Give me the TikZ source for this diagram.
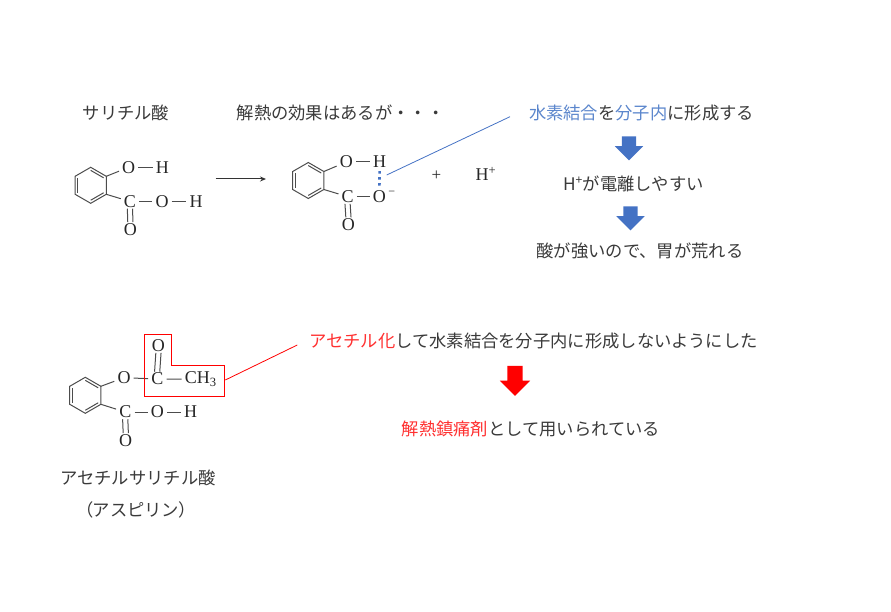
\documentclass[tikz,border=0pt]{standalone}
\usepackage{fontspec}
\setmainfont{Liberation Serif}
\newfontfamily\jpfont{Noto Sans CJK JP}
\usetikzlibrary{calc,shapes.arrows,arrows.meta}
\definecolor{keyblue}{HTML}{4472C4}
\definecolor{wordblue}{HTML}{5B86CC}
\definecolor{keyred}{HTML}{FF0000}
\definecolor{wordred}{HTML}{FF3030}
\definecolor{inkgray}{HTML}{3A3A3A}
\tikzset{
  atom/.style={inner sep=3pt,font=\fontsize{18}{19}\selectfont,text=black!85},
  caption/.style={inner sep=0pt,font=\jpfont\fontsize{17.3}{20}\selectfont,text=inkgray},
  bond/.style={draw=black!70,line width=1pt},
  twin/.style={shorten <=-2pt,shorten >=-2pt},
  downblue/.style={single arrow,fill=keyblue,draw=none,rotate=-90,inner xsep=0pt,inner ysep=7pt,
    minimum width=28pt,minimum height=24pt,single arrow head extend=7pt,single arrow head indent=0pt},
  downred/.style={single arrow,fill=keyred,draw=none,rotate=-90,inner xsep=0pt,inner ysep=7.5pt,
    minimum width=30pt,minimum height=30pt,single arrow head extend=7.5pt,single arrow head indent=0pt},
}
\newcommand{\blueword}[1]{\textcolor{wordblue}{#1}}
\newcommand{\redword}[1]{\textcolor{wordred}{#1}}
\begin{document}
\begin{tikzpicture}[x=1pt,y=-1pt]
  \useasboundingbox (0,0) rectangle (891,612);
  % captions
  \node[caption] (nameA) at (126,113) {サリチル酸};
  \node[caption] (remark) at (340.5,113) {解熱の効果はあるが・・・};
  \node[caption] (stepA) at (641.5,113) {\blueword{水素結合}を\blueword{分子内}に形成する};
  \node[caption] (stepB) at (633.5,184) {H\textsuperscript{+}が電離しやすい};
  \node[caption] (stepC) at (640,251) {酸が強いので、胃が荒れる};
  \node[caption] (nameB) at (138,478) {アセチルサリチル酸};
  \node[caption] (nameC) at (136,510) {（\kern-1pt アスピリン\kern-1pt ）};
  \node[caption] (stepD) at (533.5,341) {\redword{アセチル化}して水素結合を分子内に形成しないようにした};
  \node[caption] (stepE) at (531,429) {\redword{解熱鎮痛剤}として用いられている};
  \node[downblue] (downA) at (629,144.7) {};
  \node[downblue] (downB) at (630.5,214.7) {};
  \node[downred] (downC) at (515,377) {};
  % salicylic acid
  \begin{scope}[shift={(90.7,185.3)}]
    \draw
      (0,0) coordinate (a0)
      (90:18) coordinate (a1)
      (30:18) coordinate (a2)
      (-30:18) coordinate (a3)
      (-90:18) coordinate (a4)
      (-150:18) coordinate (a5)
      (150:18) coordinate (a6);
  \end{scope}
  \draw
    (128.7,167.3) node[atom] (aO){O}
    (162.3,167.3) node[atom] (aH){H}
    (130,201.5) node[atom] (aC){C}
    (162,201.5) node[atom] (bO){O}
    (196,201.5) node[atom] (bH){H}
    (130.3,229.3) node[atom] (cO){O};
  \begin{scope}[bond]
    \draw (a1) -- (a2) -- (a3) -- (a4) -- (a5) -- (a6) -- cycle;
    \draw ($(a5)!.17!(a0)$) to ($(a6)!.17!(a0)$);
    \draw ($(a3)!.17!(a0)$) to ($(a4)!.17!(a0)$);
    \draw ($(a1)!.17!(a0)$) to ($(a2)!.17!(a0)$);
    \draw (a3) to (aO);
    \draw (aO) to (aH);
    \draw (a2) to (aC);
    \draw (aC) to (bO);
    \draw (bO) to (bH);
    \draw[twin] ([xshift=-2.6pt]aC.south) to ([xshift=-2.6pt]cO.north);
    \draw[twin] ([xshift=2.6pt]aC.south) to ([xshift=2.6pt]cO.north);
  \end{scope}
  % reaction arrow
  \coordinate (arrowL) at (215.7,179);
  \coordinate (arrowR) at (266,179);
  \draw[-{Stealth[length=6pt,width=5pt]},line width=1pt,black!80] (arrowL) to (arrowR);
  % salicylate ion
  \begin{scope}[shift={(308.3,180.5)}]
    \draw
      (0,0) coordinate (d0)
      (90:18) coordinate (d1)
      (30:18) coordinate (d2)
      (-30:18) coordinate (d3)
      (-90:18) coordinate (d4)
      (-150:18) coordinate (d5)
      (150:18) coordinate (d6);
  \end{scope}
  \draw
    (346.3,162) node[atom] (dO){O}
    (379.7,162) node[atom] (dH){H}
    (347.7,196.7) node[atom] (dC){C}
    (379.3,196.7) node[atom] (eO){O}
    (391.7,193) node[atom,font=\fontsize{12}{13}\selectfont] (eM){−}
    (348.3,224.7) node[atom] (fO){O}
    (436.3,175.3) node[atom,font=\fontsize{17}{18}\selectfont] (plus){+}
    (486,174) node[atom] (ion){H\textsuperscript{+}};
  \begin{scope}[bond]
    \draw (d1) -- (d2) -- (d3) -- (d4) -- (d5) -- (d6) -- cycle;
    \draw ($(d5)!.17!(d0)$) to ($(d6)!.17!(d0)$);
    \draw ($(d3)!.17!(d0)$) to ($(d4)!.17!(d0)$);
    \draw ($(d1)!.17!(d0)$) to ($(d2)!.17!(d0)$);
    \draw (d3) to (dO);
    \draw (dO) to (dH);
    \draw (d2) to (dC);
    \draw (dC) to (eO);
    \draw[twin] ([xshift=-2.6pt]dC.south) to ([xshift=-2.6pt]fO.north);
    \draw[twin] ([xshift=2.6pt]dC.south) to ([xshift=2.6pt]fO.north);
  \end{scope}
  \draw[keyblue,line width=2.6pt,dash pattern=on 2.6pt off 3.4pt] (dH) to (eO);
  \coordinate (noteA) at (510,116.7);
  \coordinate (hookA) at (386.7,175);
  \draw[keyblue,line width=0.8pt] (hookA) to (noteA);
  % aspirin
  \begin{scope}[shift={(85.3,395.3)}]
    \draw
      (0,0) coordinate (g0)
      (90:18) coordinate (g1)
      (30:18) coordinate (g2)
      (-30:18) coordinate (g3)
      (-90:18) coordinate (g4)
      (-150:18) coordinate (g5)
      (150:18) coordinate (g6);
  \end{scope}
  \draw
    (124,377.7) node[atom] (gO){O}
    (157.3,379) node[atom] (gC){C}
    (158.3,345.7) node[atom] (hO){O}
    (200.7,379.3) node[atom] (gM){CH\textsubscript{3}}
    (125.3,412) node[atom] (iC){C}
    (157.3,412) node[atom] (iO){O}
    (190.7,412) node[atom] (iH){H}
    (125.7,440.3) node[atom] (jO){O};
  \begin{scope}[bond]
    \draw (g1) -- (g2) -- (g3) -- (g4) -- (g5) -- (g6) -- cycle;
    \draw ($(g5)!.17!(g0)$) to ($(g6)!.17!(g0)$);
    \draw ($(g3)!.17!(g0)$) to ($(g4)!.17!(g0)$);
    \draw ($(g1)!.17!(g0)$) to ($(g2)!.17!(g0)$);
    \draw (g3) to (gO);
    \draw (gO) to (gC);
    \draw (gC) to (gM);
    \draw[twin] ([xshift=-2.6pt]gC.north) to ([xshift=-2.6pt]hO.south);
    \draw[twin] ([xshift=2.6pt]gC.north) to ([xshift=2.6pt]hO.south);
    \draw (g2) to (iC);
    \draw (iC) to (iO);
    \draw (iO) to (iH);
    \draw[twin] ([xshift=-2.6pt]iC.south) to ([xshift=-2.6pt]jO.north);
    \draw[twin] ([xshift=2.6pt]iC.south) to ([xshift=2.6pt]jO.north);
  \end{scope}
  % acetyl group outline
  \draw[keyred,line width=0.9pt] (144.3,334) -- (171.7,334) -- (171.7,365) -- (224.7,365) -- (224.7,396) -- (144.3,396) -- cycle;
  \coordinate (hookB) at (225.3,380);
  \coordinate (noteB) at (297.3,345);
  \draw[keyred,line width=0.8pt] (hookB) to (noteB);
\end{tikzpicture}
\end{document}
